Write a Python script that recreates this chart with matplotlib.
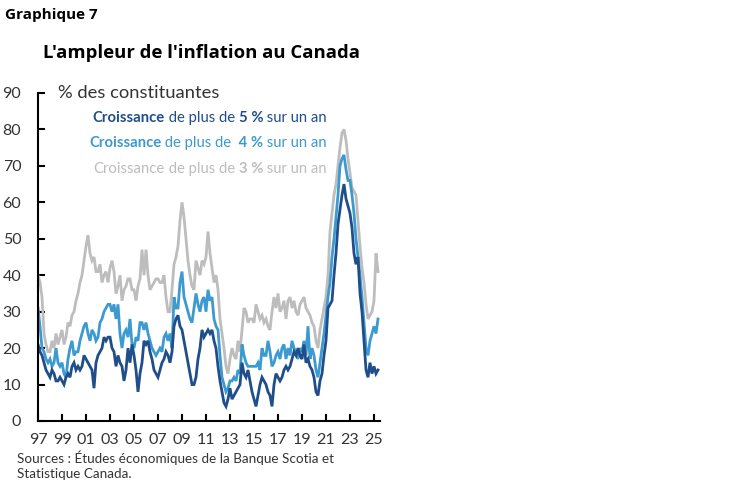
import matplotlib
matplotlib.use("Agg")
import matplotlib.pyplot as plt
import numpy as np

# bimonthly observations (Jan, Mar, May, Jul, Sep, Nov), 1997-01 .. 2025-05
start_year = 1997
gt3 = [
    40, 38, 34, 24, 21, 19,   # 1997
    19, 22, 20, 24, 21, 23,   # 1998
    25, 21, 23, 27, 26, 29,   # 1999
    30, 33, 35, 38, 40, 44,   # 2000
    48, 51, 46, 44, 45, 41,   # 2001
    41, 43, 38, 40, 41, 38,   # 2002
    42, 44, 41, 35, 37, 40,   # 2003
    33, 36, 37, 39, 39, 36,   # 2004
    36, 33, 37, 39, 47, 40,   # 2005
    47, 40, 36, 37, 38, 39,   # 2006
    39, 38, 38, 40, 34, 30,   # 2007
    30, 36, 43, 45, 48, 55,   # 2008
    60, 56, 50, 44, 40, 37,   # 2009
    36, 44, 42, 40, 44, 43,   # 2010
    45, 52, 46, 42, 38, 40,   # 2011
    36, 28, 24, 20, 15, 13,   # 2012
    17, 20, 18, 17, 22, 19,   # 2013
    25, 31, 30, 27, 28, 28,   # 2014
    27, 32, 30, 28, 29, 27,   # 2015
    28, 26, 25, 30, 34, 31,   # 2016
    35, 30, 31, 33, 28, 33,   # 2017
    34, 31, 33, 30, 29, 32,   # 2018
    33, 34, 31, 30, 29, 27,   # 2019
    26, 22, 20, 25, 28, 31,   # 2020
    34, 40, 52, 57, 62, 65,   # 2021
    70, 75, 79, 80, 77, 72,   # 2022
    68, 64, 63, 62, 55, 48,   # 2023
    42, 38, 32, 28, 29, 30,   # 2024
    33, 46, 41,               # 2025
]
gt4 = [
    31, 26, 20, 19, 17, 16,
    17, 15, 16, 20, 16, 15,
    16, 13, 12, 17, 20, 22,
    18, 19, 19, 22, 24, 26,
    27, 24, 22, 25, 24, 22,
    23, 27, 28, 30, 31, 32,
    32, 30, 32, 28, 32, 24,
    20, 24, 25, 23, 28, 21,
    20, 23, 22, 27, 27, 25,
    27, 24, 22, 20, 19, 18,
    19, 20, 19, 23, 24, 22,
    24, 20, 34, 31, 31, 38,
    41, 34, 32, 30, 28, 27,
    31, 35, 32, 30, 33, 34,
    30, 36, 33, 34, 28, 26,
    25, 18, 12, 10, 8, 9,
    11, 11, 12, 11, 14, 13,
    21, 18, 16, 15, 15, 15,
    15, 15, 16, 14, 20, 18,
    18, 22, 19, 15, 16, 18,
    19, 17, 20, 21, 17, 20,
    18, 22, 20, 19, 17, 20,
    19, 22, 18, 26, 17, 20,
    18, 14, 12, 16, 20, 24,
    29, 34, 38, 45, 50, 56,
    62, 70, 72, 73, 69, 66,
    66, 62, 57, 50, 45, 40,
    34, 27, 20, 18, 22, 24,
    26, 24, 28,
]
gt5 = [
    21, 19, 18, 16, 14, 13,
    12, 14, 13, 11, 11, 12,
    11, 10, 12, 13, 12, 15,
    16, 14, 15, 14, 15, 18,
    17, 16, 15, 14, 9, 16,
    18, 19, 20, 23, 22, 23,
    23, 20, 19, 15, 18, 16,
    15, 11, 14, 20, 16, 21,
    18, 14, 8, 13, 16, 22,
    21, 22, 19, 17, 14, 13,
    12, 14, 16, 17, 19, 18,
    16, 19, 26, 28, 29, 26,
    25, 22, 19, 16, 13, 10,
    10, 12, 17, 20, 25, 23,
    24, 25, 24, 25, 22, 20,
    15, 11, 8, 5, 4, 6,
    9, 6, 7, 8, 9, 10,
    16, 13, 12, 14, 11, 8,
    6, 4, 7, 10, 12, 11,
    10, 8, 7, 4, 10, 13,
    12, 11, 12, 14, 15, 14,
    15, 17, 19, 18, 20, 18,
    17, 21, 16, 17, 15, 14,
    12, 8, 7, 11, 13, 18,
    22, 31, 32, 33, 40, 46,
    54, 58, 62, 65, 61, 59,
    57, 53, 46, 43, 45, 35,
    30, 22, 14, 12, 16, 13,
    15, 13, 14,
]
tick_years = list(range(1997, 2026, 2))
tick_labels = ["97", "99", "01", "03", "05", "07", "09", "11", "13",
               "15", "17", "19", "21", "23", "25"]
y_ticks = [0, 10, 20, 30, 40, 50, 60, 70, 80, 90]

c_dark = "#1F4E8A"
c_mid = "#3C9AD0"
c_gray = "#BDBDBD"
c_text = "#333333"

x = start_year + np.arange(len(gt3)) * 2 / 12.0

fig = plt.figure(figsize=(7.48, 4.83), dpi=100)
ax = fig.add_axes([38 / 748, 1 - 421 / 483, 342 / 748, 328 / 483])

ax.plot(x, gt3, color=c_gray, lw=2.0, solid_joinstyle="miter")
ax.plot(x, gt4, color=c_mid, lw=2.0, solid_joinstyle="miter")
ax.plot(x, gt5, color=c_dark, lw=2.0, solid_joinstyle="miter")

ax.set_xlim(1997, 2025.5)
ax.set_ylim(0, 90)
ax.set_xticks(tick_years)
ax.set_xticklabels(tick_labels)
ax.set_yticks(y_ticks)
for s in ["top", "right"]:
    ax.spines[s].set_visible(False)
for s in ["left", "bottom"]:
    ax.spines[s].set_color("black")
    ax.spines[s].set_linewidth(1.5)
ax.tick_params(direction="in", length=5, width=1.5, colors="black",
               labelcolor=c_text, labelsize=11.5)
ax.tick_params(axis="x", pad=9)
ax.tick_params(axis="y", pad=12)
for lab in ax.get_xticklabels() + ax.get_yticklabels():
    lab.set_family("Lato")

fig.text(5 / 748, 1 - 15 / 483, "Graphique 7", fontsize=11, fontweight="bold",
         family="Open Sans", va="center", ha="left", color="black")
fig.text(43 / 748, 1 - 53 / 483, "L'ampleur de l'inflation au Canada", fontsize=13.3,
         fontweight="bold", family="Open Sans", va="center", ha="left",
         color="black")
fig.text(58 / 748, 1 - 93 / 483, "% des constituantes", fontsize=13.2,
         family="Lato", va="center", ha="left", color=c_text)

fs = 10.7
rx = 327 / 748
fig.canvas.draw()
r = fig.canvas.get_renderer()
for ypx, col, num, w1 in [(118, c_dark, "5", "bold"),
                          (143, c_mid, " 4", "bold"),
                          (169, c_gray, "3", "normal")]:
    yy = 1 - ypx / 483
    t3 = fig.text(rx, yy, " sur un an", fontsize=fs, family="Lato",
                  color=col, ha="right", va="center")
    bb = t3.get_window_extent(r)
    t2 = fig.text(bb.x0 / 748, yy, num + " %", fontsize=fs, family="Lato",
                  fontweight="bold", color=col, ha="right", va="center")
    bb = t2.get_window_extent(r)
    t1 = fig.text(bb.x0 / 748, yy, " de plus de ", fontsize=fs, family="Lato",
                  color=col, ha="right", va="center")
    bb = t1.get_window_extent(r)
    fig.text(bb.x0 / 748, yy, "Croissance", fontsize=fs, family="Lato",
             fontweight=w1, color=col, ha="right", va="center")

fig.text(17 / 748, 1 - 458 / 483,
         "Sources : Études économiques de la Banque Scotia et",
         fontsize=9.7, family="Lato", color=c_text, va="center", ha="left")
fig.text(17 / 748, 1 - 474 / 483, "Statistique Canada.",
         fontsize=9.7, family="Lato", color=c_text, va="center", ha="left")

fig.savefig("out.png", dpi=100)
